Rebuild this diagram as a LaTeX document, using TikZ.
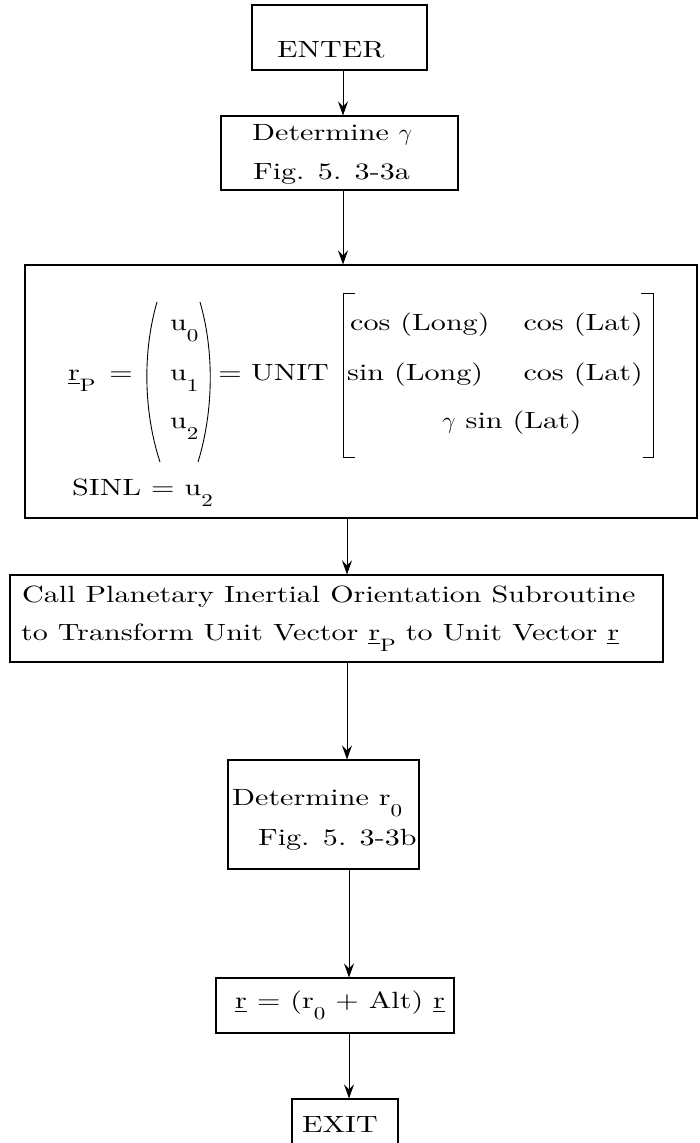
\RequirePackage{fix-cm}
\documentclass[tikz,border=0pt]{standalone}
\usepackage{amsmath}
\usepackage{fontspec}
\setmainfont{lmroman10-regular.otf}[FakeStretch=1.28]
\usetikzlibrary{arrows.meta}
\newcommand\lo[1]{\raisebox{-11pt}{\fontsize{18}{18}\selectfont #1}}
\begin{document}
\begin{tikzpicture}[x=1pt,y=-1pt,
  box/.style={draw, line width=1.1pt, inner sep=0pt},
  txt/.style={inner sep=0pt, font=\fontsize{23.5}{28}\selectfont},
  arr/.style={line width=0.9pt, -{Stealth[length=14pt,width=10pt,inset=5pt]}},
  thin/.style={line width=0.9pt}]
\useasboundingbox (0,0) rectangle (699,1143);
\clip (0,0) rectangle (699,1143);
% boxes
\node[box, minimum width=175, minimum height=65] (enter) at (339.5,37.5) {};
\node[box, minimum width=237, minimum height=74] (detg) at (339.5,153) {};
\node[box, minimum width=672, minimum height=253] (big) at (361,391.5) {};
\node[box, minimum width=653, minimum height=87] (call) at (336.5,618.5) {};
\node[box, minimum width=191, minimum height=109] (detr) at (323.5,814.5) {};
\node[box, minimum width=238, minimum height=55] (rbox) at (335,1005.5) {};
\node[box, minimum width=106, minimum height=61] (exit) at (345,1129.5) {};
% connectors
\draw[arr] ([xshift=3.5pt]enter.south) -- ([xshift=3.5pt]detg.north);
\draw[arr] ([xshift=3.5pt]detg.south) -- ([xshift=3.5pt]detg.south |- big.north);
\draw[arr] ([xshift=10.5pt]call.north |- big.south) -- ([xshift=10.5pt]call.north);
\draw[arr] ([xshift=23.5pt]detr.north |- call.south) -- ([xshift=23.5pt]detr.north);
\draw[arr] ([xshift=14pt]rbox.north |- detr.south) -- ([xshift=14pt]rbox.north);
\draw[arr] ([xshift=4pt]exit.north |- rbox.south) -- ([xshift=4pt]exit.north);
% texts
\node[txt, anchor=base west] (tEnter) at (277,57) {ENTER};
\node[txt, anchor=base west] (tDg1) at (252,140) {Determine $\gamma$};
\node[txt, anchor=base west] (tDg2) at (253,179) {Fig. 5. 3-3a};
% formula
\node[txt, anchor=base west] (rp) at (68,380) {\underline{r}\lo{P}};
\node[txt, anchor=base] (eq1) at (121,380) {=};
\draw[thin] (157,302) .. controls (143,350) and (143,410) .. (160,462);
\draw[thin] (200,302) .. controls (214,350) and (214,410) .. (198,462);
\node[txt, anchor=base west] (u0) at (170,330) {u\lo{0}};
\node[txt, anchor=base west] (u1) at (170,380) {u\lo{1}};
\node[txt, anchor=base west] (u2) at (170,428) {u\lo{2}};
\node[txt, anchor=base] (eq2) at (230,380) {=};
\node[txt, anchor=base west] (unit) at (251,380) {UNIT};
\draw[thin] (355,293) -- (343,293) -- (343,457) -- (355,457);
\draw[thin] (641,293) -- (653,293) -- (653,457) -- (643,457);
\node[txt, anchor=base west] (c1a) at (350,330) {cos (Long)};
\node[txt, anchor=base east] (c1b) at (643,330) {cos (Lat)};
\node[txt, anchor=base west] (c2a) at (347,380) {sin (Long)};
\node[txt, anchor=base east] (c2b) at (643,380) {cos (Lat)};
\node[txt, anchor=base] (c3) at (512,428) {$\gamma$ sin (Lat)};
\node[txt, anchor=base west] (sinl) at (72,495) {SINL = u\lo{2}};
% call box
\node[txt, anchor=base west] (cl1) at (22,602) {Call Planetary Inertial Orientation Subroutine};
\node[txt, anchor=base west] (cl2) at (21,640) {to Transform Unit Vector \underline{r}\lo{P} to Unit Vector \underline{r}};
% determine r0
\node[txt, anchor=base west] (dr1) at (232,805) {Determine r\lo{0}};
\node[txt, anchor=base west] (dr2) at (258,845) {Fig. 5. 3-3b};
% r formula
\node[txt, anchor=base west] (rf) at (235,1008) {\underline{r} = (r\lo{0} + Alt) \underline{r}};
\node[txt, anchor=base west] (tExit) at (302,1132) {EXIT};
\end{tikzpicture}
\end{document}
